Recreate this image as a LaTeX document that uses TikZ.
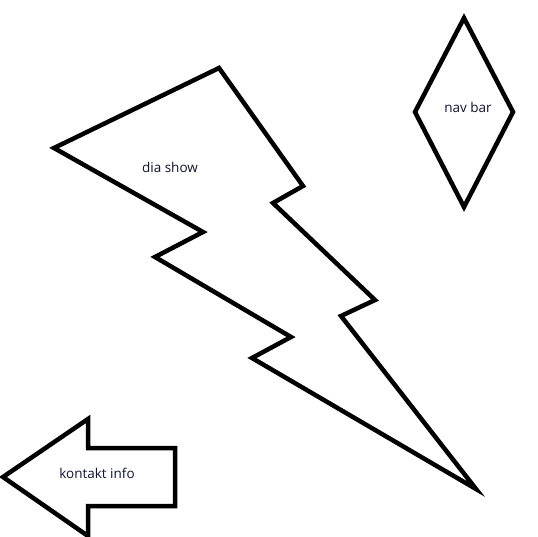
\documentclass[tikz,border=0pt]{standalone}
\usepackage{fontspec}
\setmainfont{Open Sans}
\usepackage{tikz}
\usetikzlibrary{positioning}
\definecolor{mytext}{RGB}{15,20,45}

\begin{document}
\begin{tikzpicture}[x=1pt, y=-1pt,
    outline/.style={line width=4.5pt, black, line join=miter, miter limit=6},
    label/.style={font=\fontsize{13.5}{15}\selectfont, text=mytext, inner sep=1pt}
]
\useasboundingbox (0,0) rectangle (538,537);
% lightning bolt
\draw[outline] (54,148) -- (219,68) -- (303,186) -- (273,203) -- (375,300)
    -- (341,316) -- (476,489) -- (252,358) -- (291,337) -- (155,257)
    -- (203,232) -- cycle;
\node[label] (dia) at (170,167) {dia show};
% diamond
\draw[outline] (464,18) -- (513,112) -- (464,207) -- (415,112) -- cycle;
\node[label] (nav) at (468,107) {nav bar};
% arrow
\draw[outline] (3,477) -- (88,419) -- (88,448) -- (175,448) -- (175,506)
    -- (88,506) -- (88,536) -- cycle;
\node[label] (kontakt) at (97,473) {kontakt info};
\end{tikzpicture}
\end{document}
